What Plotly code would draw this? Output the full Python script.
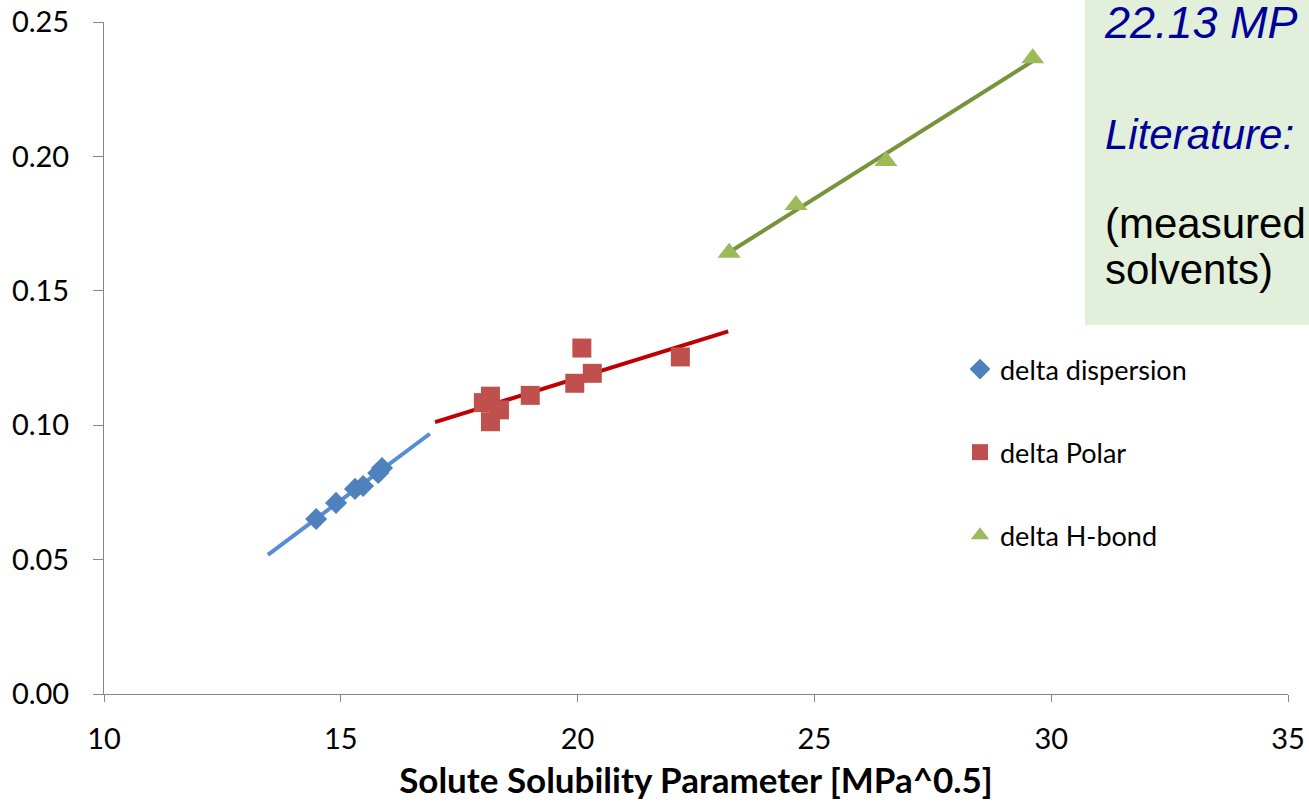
import numpy as np
import plotly.graph_objects as go

# ---- data ----
disp_x = [14.48, 14.90, 15.30, 15.47, 15.79, 15.87]
disp_y = [0.0651, 0.0711, 0.0763, 0.0774, 0.0822, 0.0841]

polar_x = [18.16, 18.01, 18.35, 18.16, 19.00, 20.09, 19.94, 20.31, 22.17]
polar_y = [0.1108, 0.1084, 0.1057, 0.1013, 0.1111, 0.1287, 0.1156, 0.1193, 0.1254]

hb_x = [23.20, 24.61, 26.51, 29.61]
hb_y = [0.1642, 0.1819, 0.1983, 0.2365]

# trendline extents (x range of each linear trendline)
disp_trend_range = [13.46, 16.88]
polar_trend_range = [16.99, 23.18]
hb_trend_range = [23.20, 29.61]

x_ticks = [10, 15, 20, 25, 30, 35]
y_ticks = [0.00, 0.05, 0.10, 0.15, 0.20, 0.25]

# ---- layout geometry (pixels) ----
W, H = 1309, 806
L, R, T, B = 104, 21, 22, 112
PW, PH = W - L - R, H - T - B


def px_x(p):
    return (p - L) / PW


def px_y(p):
    return (H - B - p) / PH


def trend(xs, ys, rng):
    k, b = np.polyfit(xs, ys, 1)
    xx = np.array(rng)
    return xx, k * xx + b


fig = go.Figure()

series = [
    ("delta dispersion", disp_x, disp_y, disp_trend_range, "diamond", 17, "#4F81BD", "#558ED5"),
    ("delta Polar", polar_x, polar_y, polar_trend_range, "square", 19, "#C0504D", "#C00000"),
    ("delta H-bond", hb_x, hb_y, hb_trend_range, "triangle-up", 20, "#9BBB59", "#77933C"),
]

for name, xs, ys, rng, sym, size, mcol, lcol in series:
    tx, ty = trend(xs, ys, rng)
    fig.add_trace(go.Scatter(
        x=tx, y=ty, mode="lines", line=dict(color=lcol, width=4),
        showlegend=False, hoverinfo="skip"))

for name, xs, ys, rng, sym, size, mcol, lcol in series:
    fig.add_trace(go.Scatter(
        x=xs, y=ys, mode="markers", name=name, legendgroup=name,
        marker=dict(symbol=sym, size=size, color=mcol, line=dict(width=0))))

# text box
fig.add_shape(type="rect", xref="paper", yref="paper",
              x0=px_x(1085), x1=px_x(1320), y0=px_y(325), y1=px_y(-5),
              fillcolor="#E2EFDA", line=dict(width=0), layer="below")

ann_font = "Liberation Sans, Arial, sans-serif"
fig.add_annotation(xref="paper", yref="paper", x=px_x(1102), y=px_y(22),
                   xanchor="left", yanchor="middle", showarrow=False,
                   text="<i>22.13 MP</i>",
                   font=dict(family=ann_font, size=45, color="#000099"))
fig.add_annotation(xref="paper", yref="paper", x=px_x(1103), y=px_y(135),
                   xanchor="left", yanchor="middle", showarrow=False,
                   text="<i>Literature:</i>",
                   font=dict(family=ann_font, size=42, color="#000099"))
fig.add_annotation(xref="paper", yref="paper", x=px_x(1103), y=px_y(223),
                   xanchor="left", yanchor="middle", showarrow=False,
                   text="(measured",
                   font=dict(family=ann_font, size=42, color="#000000"))
fig.add_annotation(xref="paper", yref="paper", x=px_x(1103), y=px_y(269),
                   xanchor="left", yanchor="middle", showarrow=False,
                   text="solvents)",
                   font=dict(family=ann_font, size=42, color="#000000"))

tick_font = dict(family="Lato, Carlito, sans-serif", size=29, color="#000000")

fig.update_layout(
    width=W, height=H,
    margin=dict(l=L, r=R, t=T, b=B, autoexpand=False),
    paper_bgcolor="white", plot_bgcolor="white",
    font=dict(family="Lato, sans-serif", color="#000000"),
    legend=dict(x=px_x(960), y=px_y(345), xanchor="left", yanchor="top",
                font=dict(family="Lato, Carlito, sans-serif", size=27, color="#000000"),
                tracegroupgap=45, bgcolor="rgba(0,0,0,0)"),
    xaxis=dict(range=[10, 35], tickvals=x_ticks, ticktext=[str(v) for v in x_ticks],
               showgrid=False, zeroline=False, showline=True, linecolor="#868686",
               linewidth=1, ticks="outside", ticklen=7, tickcolor="#868686",
               tickfont=tick_font, ticklabelstandoff=12, automargin=False,
               title=dict(text="<b>Solute Solubility Parameter [MPa^0.5]</b>",
                          font=dict(family="Lato, Carlito, sans-serif", size=35, color="#000000"),
                          standoff=14)),
    yaxis=dict(range=[0, 0.25], tickvals=y_ticks, ticktext=[f"{v:.2f}" for v in y_ticks],
               showgrid=False, zeroline=False, showline=True, linecolor="#868686",
               linewidth=1, ticks="outside", ticklen=10, tickcolor="#868686",
               tickfont=tick_font, ticklabelstandoff=18, automargin=False),
)

fig.write_html(
    "out.html",
    config={"displayModeBar": False},
    post_script="document.body.style.margin='0';document.body.style.overflow='hidden';",
)
